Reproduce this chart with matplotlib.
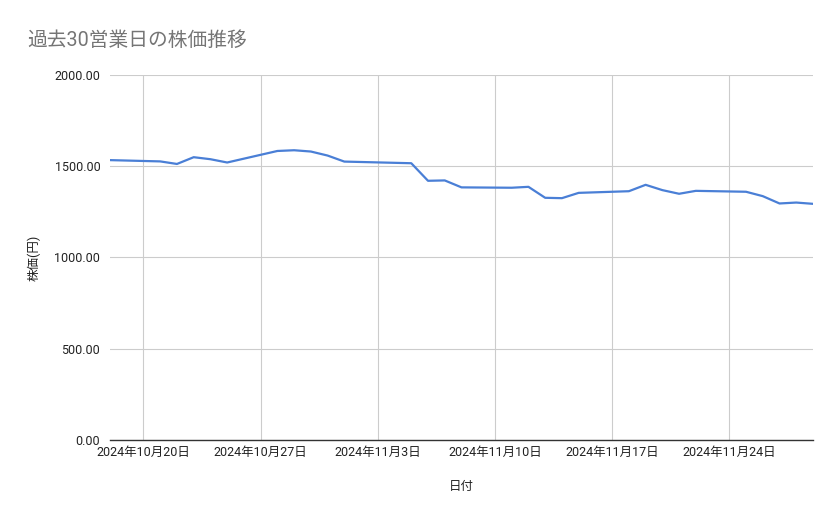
import matplotlib
matplotlib.use("Agg")
import matplotlib.pyplot as plt
import matplotlib.dates as mdates
import numpy as np
import pandas as pd
from matplotlib.ticker import FuncFormatter

plt.rcParams['font.family'] = ['Roboto', 'Noto Sans CJK JP', 'DejaVu Sans']

# 過去30営業日の株価
dates = ["2024-10-18", "2024-10-21", "2024-10-22", "2024-10-23", "2024-10-24",
         "2024-10-25", "2024-10-28", "2024-10-29", "2024-10-30", "2024-10-31",
         "2024-11-01", "2024-11-05", "2024-11-06", "2024-11-07", "2024-11-08",
         "2024-11-11", "2024-11-12", "2024-11-13", "2024-11-14", "2024-11-15",
         "2024-11-18", "2024-11-19", "2024-11-20", "2024-11-21", "2024-11-22",
         "2024-11-25", "2024-11-26", "2024-11-27", "2024-11-28", "2024-11-29"]
prices = [1532, 1525, 1511, 1548, 1537,
          1519, 1582, 1586, 1579, 1557,
          1524, 1515, 1419, 1421, 1383,
          1381, 1386, 1326, 1324, 1353,
          1362, 1397, 1368, 1348, 1364,
          1359, 1335, 1295, 1300, 1293]
y_ticks = [0, 500, 1000, 1500, 2000]

x = pd.to_datetime(dates)

fig = plt.figure(figsize=(8.39, 5.19), dpi=100)
ax = fig.add_axes([0.1311, 0.1516, 0.8379, 0.7048])

ax.plot(x, prices, color='#4a7fd6', linewidth=1.6, zorder=3)

ax.set_xlim(x[0], x[-1])
ax.set_ylim(0, 2000)
ax.set_yticks(y_ticks)
ax.yaxis.set_major_formatter(FuncFormatter(lambda v, p: f"{v:.2f}"))

ax.xaxis.set_major_locator(mdates.WeekdayLocator(byweekday=mdates.SU))
def fmt_date(v, pos):
    d = mdates.num2date(v)
    return f"{d.year}年{d.month}月{d.day}日"
ax.xaxis.set_major_formatter(FuncFormatter(fmt_date))

ax.grid(True, color='#cccccc', linewidth=0.8, zorder=0)
for s in ['top', 'right', 'left']:
    ax.spines[s].set_visible(False)
ax.spines['bottom'].set_color('#333333')
ax.spines['bottom'].set_linewidth(1.0)
ax.tick_params(axis='both', length=0, labelsize=9, colors='#222222')
ax.tick_params(axis='x', pad=4)
ax.tick_params(axis='y', pad=7)

ax.set_xlabel("日付", fontsize=9, color='#222222', labelpad=15)
ax.set_ylabel("株価(円)", fontsize=9, color='#222222', labelpad=10)

fig.text(27 / 839, 1 - 40 / 519, "過去30営業日の株価推移", fontsize=14.2,
         color='#757575', ha='left', va='center')

fig.savefig("out.png", dpi=100)
